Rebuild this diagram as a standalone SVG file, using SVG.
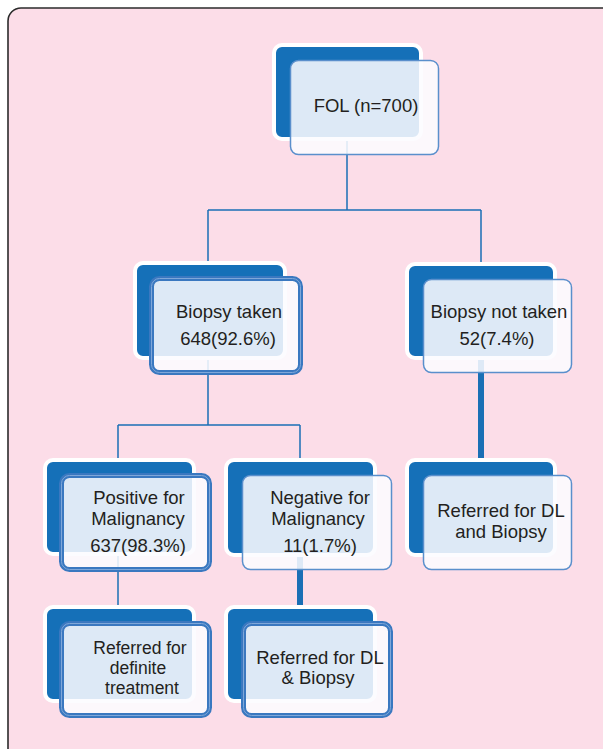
<svg xmlns="http://www.w3.org/2000/svg" width="603" height="749" viewBox="0 0 603 749">
<style>
.bg{fill:#fcdde8;stroke:#2b2b2b;stroke-width:1.6}
.back{fill:#1570b8;stroke:#ffffff;stroke-width:4}
.front{fill:#fbfbff;fill-opacity:0.87;stroke:#5a8fcc;stroke-width:1.5}
.frontb{fill:#fbfbff;fill-opacity:0.87;stroke:#3a78c0;stroke-width:5}
.inner{fill:none;stroke:#7fa7d9;stroke-width:1}
.t{font-family:"Liberation Sans",Arial,sans-serif;font-size:18.5px;fill:#231f20;text-anchor:middle}
.s{font-size:17.5px}
.c{stroke:#1a6fb5;stroke-width:1.5;fill:none}
.ct{stroke:#1a6fb5;stroke-width:6;fill:none}
</style>
<rect class="bg" x="8" y="8" width="620" height="770" rx="13"/>
<g id="connectors">
<path class="c" d="M347 141 V210 M208 210 H481 M208 210 V263 M481 210 V264"/>
<path class="c" d="M208 358 V425 M118 425 H300 M118 425 V460 M300 425 V460"/>
<path class="ct" d="M481 356 V460"/>
<path class="c" d="M118 552 V607"/>
<path class="ct" d="M300 553 V607"/>
</g>
<g id="fol">
<rect class="back" x="274" y="45" width="147" height="94" rx="8"/>
<rect class="front" x="290.5" y="60.5" width="148" height="94" rx="8"/>
<text class="t" x="366" y="112">FOL (n=700)</text>
</g>
<g id="biopsy-taken">
<rect class="back" x="135" y="263" width="150" height="95" rx="8"/>
<rect class="frontb" x="151.5" y="278.5" width="149" height="94" rx="8"/>
<rect class="inner" x="151.5" y="278.5" width="149" height="94" rx="8"/>
<text class="t" x="229" y="318">Biopsy taken</text>
<text class="t" x="228" y="345">648(92.6%)</text>
</g>
<g id="biopsy-not-taken">
<rect class="back" x="407" y="264" width="148" height="94" rx="8"/>
<rect class="front" x="423.5" y="279.5" width="148" height="93" rx="8"/>
<text class="t" x="499" y="318">Biopsy not taken</text>
<text class="t" x="497" y="345">52(7.4%)</text>
</g>
<g id="positive">
<rect class="back" x="45" y="460" width="149" height="94" rx="8"/>
<rect class="frontb" x="61.5" y="475.5" width="148" height="94" rx="8"/>
<rect class="inner" x="61.5" y="475.5" width="148" height="94" rx="8"/>
<text class="t" x="139" y="504">Positive for</text>
<text class="t" x="138" y="525">Malignancy</text>
<text class="t" x="138" y="552">637(98.3%)</text>
</g>
<g id="negative">
<rect class="back" x="226" y="460" width="149" height="95" rx="8"/>
<rect class="front" x="242.5" y="475.5" width="149" height="94" rx="8"/>
<text class="t" x="320" y="504">Negative for</text>
<text class="t" x="318" y="525">Malignancy</text>
<text class="t" x="320" y="552">11(1.7%)</text>
</g>
<g id="referred-dl-and-biopsy">
<rect class="back" x="407" y="460" width="148" height="95" rx="8"/>
<rect class="front" x="423.5" y="475.5" width="148" height="94" rx="8"/>
<text class="t" x="501" y="517">Referred for DL</text>
<text class="t" x="501" y="538">and Biopsy</text>
</g>
<g id="referred-definite-treatment">
<rect class="back" x="45" y="607" width="149" height="94" rx="8"/>
<rect class="frontb" x="61.5" y="623.5" width="148" height="92" rx="8"/>
<rect class="inner" x="61.5" y="623.5" width="148" height="92" rx="8"/>
<text class="t s" x="140" y="654">Referred for</text>
<text class="t s" x="138" y="674">definite</text>
<text class="t s" x="142" y="694">treatment</text>
</g>
<g id="referred-dl-amp-biopsy">
<rect class="back" x="226" y="607" width="149" height="94" rx="8"/>
<rect class="frontb" x="243.5" y="623.5" width="147" height="92" rx="8"/>
<rect class="inner" x="243.5" y="623.5" width="147" height="92" rx="8"/>
<text class="t" x="320" y="664">Referred for DL</text>
<text class="t" x="318" y="684">&amp; Biopsy</text>
</g>
</svg>
